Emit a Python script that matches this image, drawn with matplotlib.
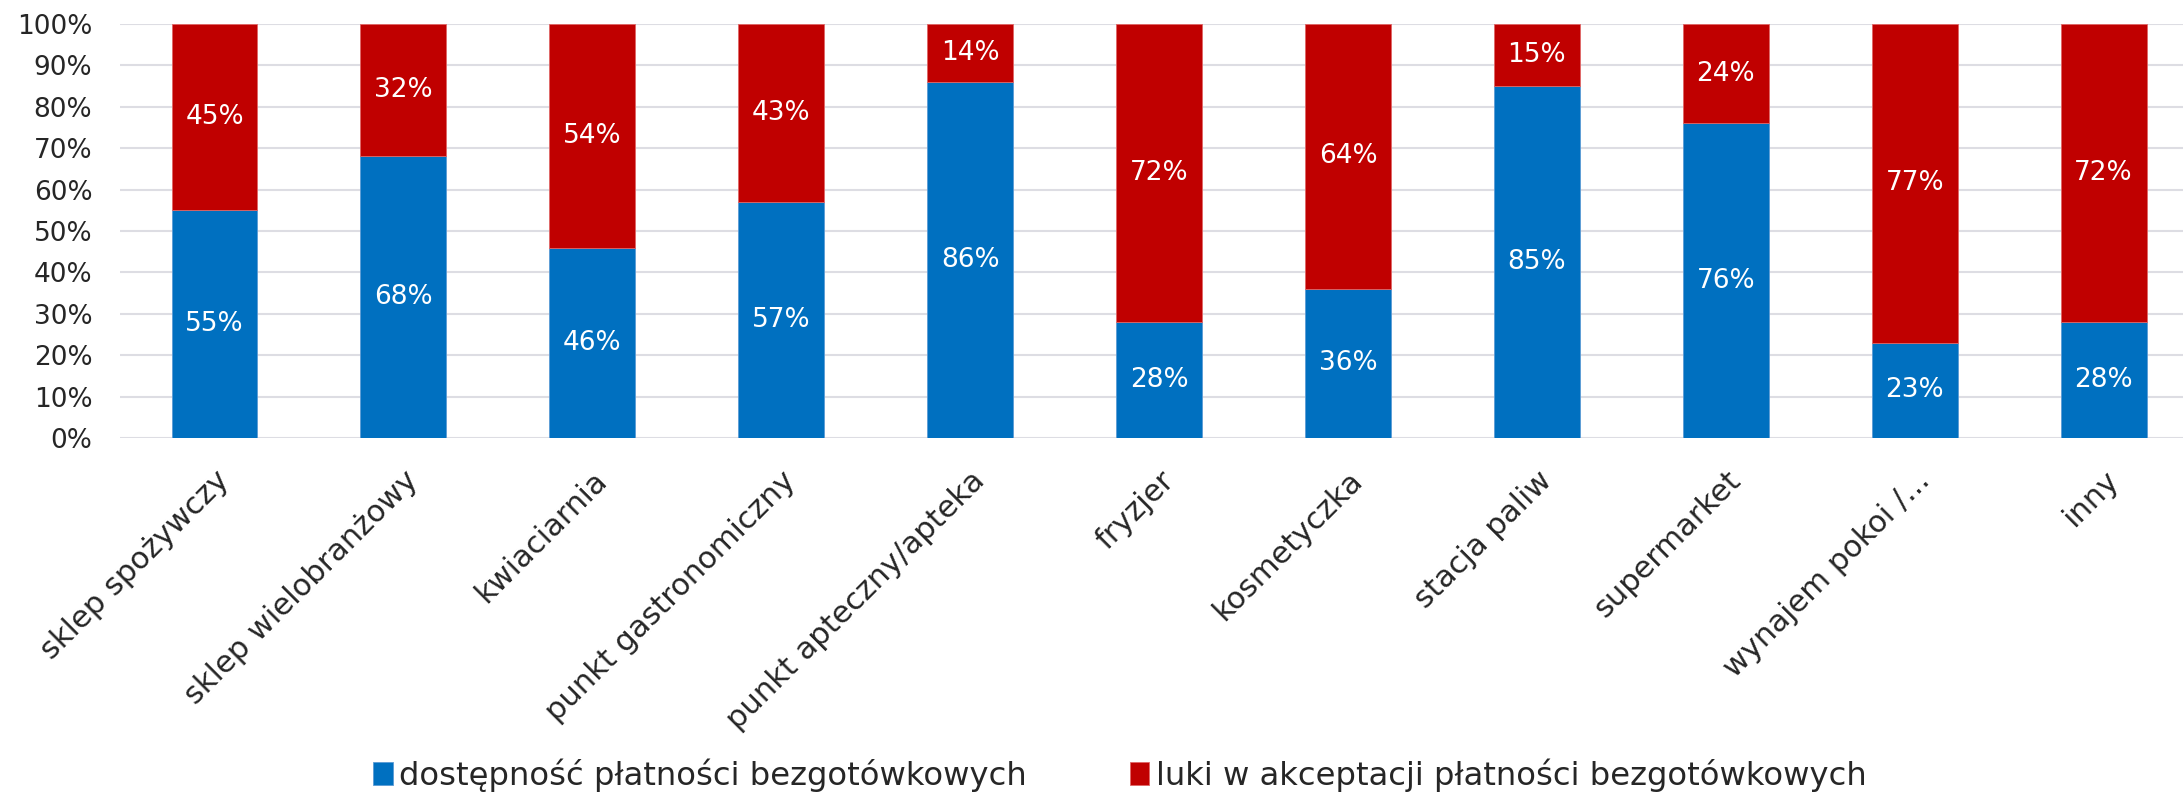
import matplotlib
matplotlib.use("Agg")
import matplotlib.pyplot as plt
import matplotlib.transforms as mtransforms
import numpy as np

categories = ['sklep spożywczy', 'sklep wielobranżowy', 'kwiaciarnia', 'punkt gastronomiczny',
              'punkt apteczny/apteka', 'fryzjer', 'kosmetyczka', 'stacja paliw',
              'supermarket', 'wynajem pokoi /...', 'inny']
available = [55, 68, 46, 57, 86, 28, 36, 85, 76, 23, 28]
gaps = [45, 32, 54, 43, 14, 72, 64, 15, 24, 77, 72]
series_names = ['dostępność płatności bezgotówkowych', 'luki w akceptacji płatności bezgotówkowych']

blue = '#0070C0'
red = '#C00000'

plt.rcParams['font.family'] = 'DejaVu Sans'

fig = plt.figure(figsize=(21.83, 7.94), dpi=100)
ax = fig.add_axes([0.055, 0.4484, 0.945, 0.5214])

x = np.arange(len(categories))
w = 0.455
b1 = ax.bar(x, available, w, color=blue, edgecolor='#5B9BD5', linewidth=0.6, label=series_names[0], zorder=3)
b2 = ax.bar(x, gaps, w, bottom=available, color=red, edgecolor='#E06666', linewidth=0.6, label=series_names[1], zorder=3)

for i in range(len(categories)):
    ax.text(x[i], available[i] / 2, f'{available[i]}%', ha='center', va='center',
            color='white', fontsize=19, zorder=4)
    ax.text(x[i], available[i] + gaps[i] / 2, f'{gaps[i]}%', ha='center', va='center',
            color='white', fontsize=19, zorder=4)

ax.set_ylim(0, 100)
ax.set_xlim(-0.5, 10.42)
ax.set_yticks(range(0, 101, 10))
ax.set_yticklabels([f'{v}%' for v in range(0, 101, 10)], fontsize=19, color='#262626')
ax.set_xticks(x)
ax.set_xticklabels(categories, rotation=45, ha='right', rotation_mode='anchor',
                   fontsize=22, color='#262626')
# nudge rotated labels a bit to the left
shift = mtransforms.ScaledTranslation(-13 / 100, 0, fig.dpi_scale_trans)
for lbl in ax.get_xticklabels():
    lbl.set_transform(lbl.get_transform() + shift)
ax.tick_params(axis='y', length=0, pad=20)
ax.tick_params(axis='x', length=0, pad=20)
ax.yaxis.grid(True, color='#DDDDE3', linewidth=1.5, zorder=0)
ax.set_axisbelow(True)
for s in ax.spines.values():
    s.set_visible(False)

fig.legend(handles=[b1, b2], labels=series_names, loc='center', bbox_to_anchor=(0.513, 0.024),
           ncol=2, frameon=False, fontsize=23.2, handlelength=0.6, handleheight=0.7,
           handletextpad=0.2, columnspacing=3.2, labelcolor='#262626')

fig.savefig('out.png', dpi=100)
